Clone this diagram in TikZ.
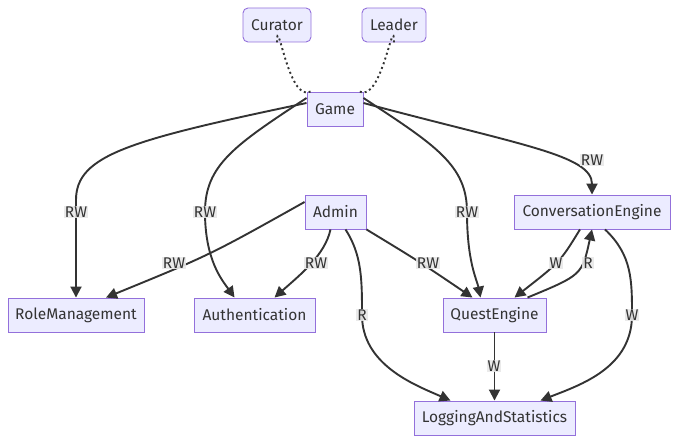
\documentclass[tikz,border=0pt]{standalone}
\usepackage{fontspec}
\setmainfont{Fira Sans}
\usetikzlibrary{arrows.meta}
\definecolor{nodefill}{HTML}{ECECFF}
\definecolor{nodeline}{HTML}{9370DB}
\definecolor{edgecol}{HTML}{333333}
\definecolor{lblbg}{HTML}{E8E8E8}
\tikzset{
  box/.style={draw=nodeline, fill=nodefill, line width=0.9pt, text=edgecol,
    minimum height=34pt, inner sep=0pt, font=\fontsize{15.5}{17}\selectfont},
  rbox/.style={box, rounded corners=5pt},
  conn/.style={draw=edgecol, line width=1.9pt, -{Triangle[length=11pt,width=11pt]}},
  dot/.style={draw=edgecol, line width=1.9pt, dash pattern=on 2pt off 3pt},
  lbl/.style={fill=lblbg, fill opacity=0.9, text opacity=1, text=edgecol, inner sep=1pt,
    font=\fontsize{15.5}{17}\selectfont}
}
\begin{document}
\begin{tikzpicture}[x=1pt,y=-1pt]
\useasboundingbox (0,0) rectangle (678,443);
% nodes
\node[rbox, minimum width=68pt] (cur) at (277,25) {Curator};
\node[rbox, minimum width=64pt] (lea) at (394,25) {Leader};
\node[box, minimum width=56pt] (game) at (335,109) {Game};
\node[box, minimum width=61pt] (admin) at (335.5,212) {Admin};
\node[box, minimum width=156pt] (conv) at (592,212) {ConversationEngine};
\node[box, minimum width=136pt] (role) at (76,315) {RoleManagement};
\node[box, minimum width=121pt] (auth) at (254.5,315) {Authentication};
\node[box, minimum width=103pt] (quest) at (494.5,315) {QuestEngine};
\node[box, minimum width=161pt] (log) at (494.5,418) {LoggingAndStatistics};
% dotted links
\draw[dot] (cur.south) .. controls ([yshift=32pt]cur.south) and ([xshift=-18pt,yshift=-12pt]game.north west) .. ([xshift=4pt]game.north west);
\draw[dot] (lea.south) .. controls ([yshift=32pt]lea.south) and ([xshift=18pt,yshift=-12pt]game.north east) .. ([xshift=-4pt]game.north east);
% game edges
\coordinate (g1) at (76,200);
\draw[conn] ([yshift=6pt]game.west) .. controls (130,140) and (76,155) .. (g1) -- (role.north);
\coordinate (g2) at (205,212);
\draw[conn] ([yshift=11pt]game.west) .. controls (235,145) and (205,165) .. (g2) .. controls (205,260) and (222,280) .. ([xshift=-20pt]auth.north);
\coordinate (g3) at (467,212);
\draw[conn] ([yshift=11pt]game.east) .. controls (435,145) and (467,165) .. (g3) .. controls (467,262) and (477,280) .. ([xshift=-14pt]quest.north);
\draw[conn] ([yshift=6pt]game.east) .. controls (520,145) and (592,155) .. (conv.north);
% admin edges
\draw[conn] ([yshift=10pt]admin.west) .. controls (210,255) .. ([xshift=30pt]role.north);
\draw[conn] ([xshift=-5pt]admin.south) .. controls (325,255) and (300,275) .. ([xshift=20pt]auth.north);
\coordinate (a3) at (362,315);
\draw[conn] ([xshift=10pt]admin.south) .. controls (362,255) and (362,280) .. (a3) .. controls (362,365) and (415,385) .. ([xshift=-44pt]log.north);
\draw[conn] (admin.south east) .. controls (420,262) .. ([xshift=-22pt]quest.north);
% conversation / quest
\draw[conn] ([xshift=-12pt]conv.south) .. controls (560,262) .. ([xshift=20pt]quest.north);
\draw[conn] ([xshift=33pt]quest.north) .. controls (582,275) .. (conv.south);
\coordinate (c3) at (632,315);
\draw[conn] ([xshift=13pt]conv.south) .. controls (632,255) and (632,280) .. (c3) .. controls (632,368) and (580,385) .. ([xshift=46pt]log.north);
\draw[conn] (quest.south) -- (log.north);
% labels
\node[lbl] (l1) at (76,212) {RW};
\node[lbl] (l2) at (205,212) {RW};
\node[lbl] (l3) at (467,212) {RW};
\node[lbl] (l4) at (592,160) {RW};
\node[lbl] (l5) at (174,263) {RW};
\node[lbl] (l6) at (316,263) {RW};
\node[lbl] (l7) at (362,315) {R};
\node[lbl] (l8) at (428,263) {RW};
\node[lbl] (l9) at (556,263) {W};
\node[lbl] (l10) at (588,263) {R};
\node[lbl] (l11) at (632,315) {W};
\node[lbl] (l12) at (494,366) {W};
\end{tikzpicture}
\end{document}
